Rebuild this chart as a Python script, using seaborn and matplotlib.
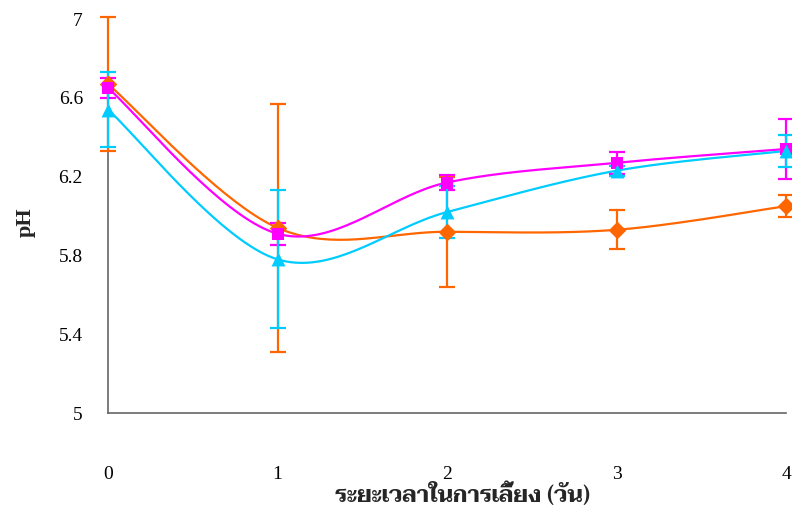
import numpy as np
import pandas as pd
import matplotlib
matplotlib.use("Agg")
import matplotlib.pyplot as plt
import seaborn as sns

# pH over the culture period, three treatments (mean and error)
days = [0, 1, 2, 3, 4]
ph_orange = [6.67, 5.94, 5.92, 5.93, 6.05]
err_orange = [0.34, 0.63, 0.28, 0.10, 0.055]
ph_magenta = [6.65, 5.91, 6.17, 6.27, 6.34]
err_magenta = [0.05, 0.057, 0.04, 0.055, 0.15]
ph_cyan = [6.54, 5.78, 6.02, 6.23, 6.33]
err_cyan = [0.19, 0.35, 0.13, 0.025, 0.08]

x_ticks = [0, 1, 2, 3, 4]
y_ticks = [5, 5.4, 5.8, 6.2, 6.6, 7]
x_title = "ระยะเวลาในการเลี้ยง (วัน)"
y_title = "pH"


def smooth_curve(xs, ys, n=40):
    """Catmull-Rom style cubic Bezier through the points (spreadsheet smoothing)."""
    px = np.asarray(xs, float)
    py = np.asarray(ys, float)
    ext_x = np.concatenate([[px[0]], px, [px[-1]]])
    ext_y = np.concatenate([[py[0]], py, [py[-1]]])
    pts = np.column_stack([ext_x, ext_y])
    t = np.linspace(0, 1, n)[:, None]
    out = []
    for i in range(len(px) - 1):
        p0, p3 = pts[i + 1], pts[i + 2]
        c1 = p0 + (pts[i + 2] - pts[i]) / 6
        c2 = p3 - (pts[i + 3] - pts[i + 1]) / 6
        b = (1 - t) ** 3 * p0 + 3 * (1 - t) ** 2 * t * c1 + 3 * (1 - t) * t ** 2 * c2 + t ** 3 * p3
        out.append(b if i == 0 else b[1:])
    out = np.vstack(out)
    return out[:, 0], out[:, 1]


sns.set_theme(style="white")
plt.rcParams["font.family"] = ["Liberation Serif", "DejaVu Serif"]

fig = plt.figure(figsize=(7.92, 5.15), dpi=100)
ax = fig.add_axes([108 / 792, 1 - 413 / 515, (786 - 108) / 792, (413 - 19) / 515])

series = [
    (ph_orange, err_orange, "#FF6600", "D", 9),
    (ph_magenta, err_magenta, "#FF00FF", "s", 9),
    (ph_cyan, err_cyan, "#00CCFF", "^", 10),
]

for vals, errs, color, marker, ms in series:
    cx, cy = smooth_curve(days, vals)
    curve = pd.DataFrame({"day": cx, "pH": cy})
    sns.lineplot(data=curve, x="day", y="pH", ax=ax, color=color, lw=1.6,
                 sort=False, zorder=2, clip_on=False)

for vals, errs, color, marker, ms in series:
    ax.errorbar(days, vals, yerr=errs, fmt="none", ecolor=color, elinewidth=1.6,
                capsize=5.5, capthick=1.6, zorder=3, clip_on=False)

for vals, errs, color, marker, ms in series:
    pts = pd.DataFrame({"day": days, "pH": vals})
    sns.scatterplot(data=pts, x="day", y="pH", ax=ax, color=color, marker=marker,
                    s=ms ** 2, linewidth=0, zorder=4, clip_on=False)

ax.set_xlim(0, 4)
ax.set_ylim(5, 7)
ax.set_xticks(x_ticks)
ax.set_yticks(y_ticks)
ax.set_yticklabels([f"{v:g}" for v in y_ticks])
ax.tick_params(axis="both", which="major", direction="out", length=7, width=1.2,
               color="#666666", labelsize=14, labelcolor="black")
ax.tick_params(axis="x", pad=31)
ax.tick_params(axis="y", pad=11)
for side in ("top", "right"):
    ax.spines[side].set_visible(False)
for side in ("left", "bottom"):
    ax.spines[side].set_color("#666666")
    ax.spines[side].set_linewidth(1.2)

ax.set_xlabel("")
ax.set_ylabel("")
fig.text(26 / 792, 1 - 222 / 515, y_title, rotation=90, ha="center", va="center",
         fontsize=16, fontweight="bold")
fig.text(462 / 792, 1 - 495 / 515, x_title, ha="center", va="center",
         fontsize=16, fontweight="bold", family=["Taviraj", "Liberation Serif"])

fig.savefig("out.png", dpi=100)
